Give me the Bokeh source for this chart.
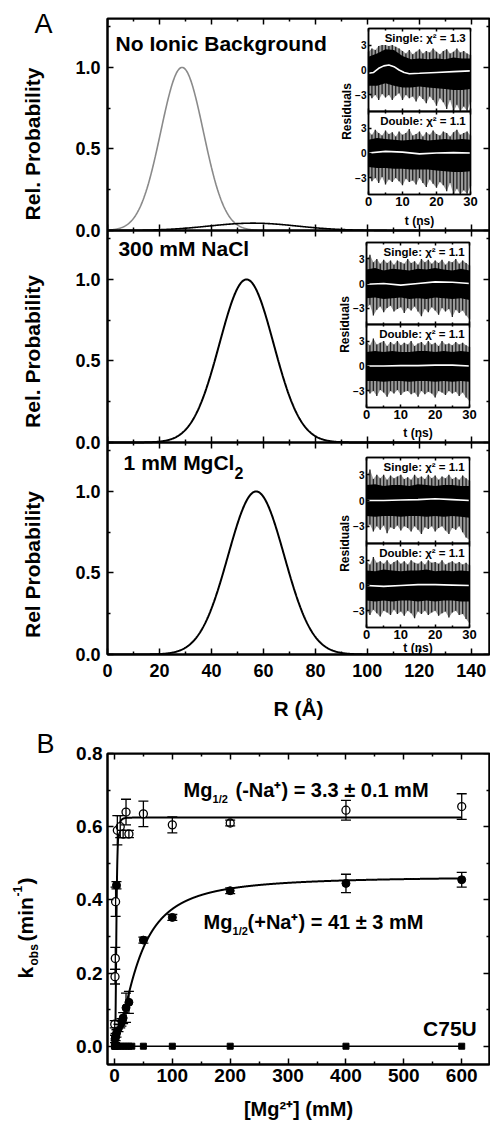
import numpy as np
from bokeh.plotting import figure
from bokeh.models import (Range1d, LinearAxis, FixedTicker, PrintfTickFormatter,
                          CustomJSTickFormatter, Label, ColumnDataSource, Whisker, TeeHead)
from bokeh.layouts import column, row
from bokeh.embed import file_html
from bokeh.resources import INLINE

FONT = "Liberation Sans"

# ---------------- data: panel A ----------------
R_TICKS = [0, 20, 40, 60, 80, 100, 120, 140]
R_MINOR = [10, 30, 50, 70, 90, 110, 130]
P_TICKS = [0.0, 0.5, 1.0]
P_MINOR = [0.25, 0.75, 1.25]
PANEL_TITLES = ["No Ionic Background", "300 mM NaCl", "1 mM MgCl"]
Y_LABELS = ["Rel. Probability", "Rel. Probability", "Rel Probability"]
# Gaussian distance distributions: [center (A), sigma (A), amplitude]
GAUSS_NOION_MAJOR = [28.7, 8.2, 1.0]
GAUSS_NOION_MINOR = [56.0, 17.0, 0.045]
GAUSS_NACL = [53.5, 10.4, 1.0]
GAUSS_MGCL2 = [57.2, 10.8, 1.0]
CHI2_SINGLE = ["1.3", "1.1", "1.1"]
CHI2_DOUBLE = ["1.1", "1.1", "1.1"]

# residual insets (estimated envelopes of the noisy residual traces)
RES_T = [0, 1, 2, 3, 4, 5, 6, 7, 8, 9, 10, 11, 12, 13, 14, 15, 16, 17, 18, 19, 20,
         21, 22, 23, 24, 25, 26, 27, 28, 29, 30]
CORE_T = [0, 2.5, 5, 7.5, 10, 12.5, 15, 17.5, 20, 22.5, 25, 27.5, 30]
FIT_T = [0, 5, 10, 15, 20, 25, 30]
RES_TICKS = [-3, 0, 3]
T_TICKS = [0, 10, 20, 30]
T_MINOR = [5, 15, 25]

N1S_HI = [2.2, 2.6, 2.4, 2.9, 3.0, 3.0, 2.9, 3.0, 2.8, 2.6, 2.3, 2.0, 2.4, 1.9, 2.2, 2.5, 2.0, 2.3, 2.1, 2.6,
          2.2, 1.9, 2.3, 2.5, 2.0, 2.2, 2.6, 2.1, 2.3, 2.0, 1.8]
N1S_LO = [-2.8, -3.4, -3.0, -3.6, -2.9, -3.3, -3.0, -3.6, -3.1, -2.8, -3.6, -3.0, -3.4, -3.2, -3.8, -3.1,
          -3.5, -4.0, -3.2, -3.6, -4.3, -3.4, -3.9, -4.7, -3.6, -5.0, -4.2, -5.0, -4.4, -4.9, -3.9]
N1S_CORE_HI = [1.6, 2.0, 2.5, 2.4, 1.7, 1.3, 1.4, 1.3, 1.4, 1.3, 1.5, 1.4, 1.4]
N1S_CORE_LO = [-1.9, -1.9, -1.6, -1.9, -2.1, -2.1, -2.0, -2.1, -2.2, -2.3, -2.4, -2.4, -2.3]
N1S_FIT_T = [0, 1.5, 3, 4.5, 6, 7.5, 9, 10.5, 12, 15, 20, 25, 30]
N1S_FIT = [-0.4, -0.3, 0.2, 0.5, 0.6, 0.4, 0.0, -0.3, -0.45, -0.4, -0.3, -0.2, -0.1]

N1D_HI = [2.6, 2.2, 2.8, 2.4, 2.1, 2.7, 2.3, 2.5, 2.0, 2.6, 2.2, 2.4, 2.9, 2.1, 2.3, 2.6, 2.0, 2.5, 2.2, 2.7,
          2.3, 2.1, 2.6, 2.4, 2.0, 2.5, 2.8, 2.2, 2.4, 2.6, 2.1]
N1D_LO = [-2.6, -3.4, -3.0, -3.6, -2.9, -3.8, -3.2, -3.5, -3.0, -3.4, -3.9, -3.1, -3.5, -3.3, -3.8, -3.0,
          -3.6, -4.1, -3.2, -3.7, -4.2, -3.5, -3.9, -4.6, -3.6, -5.0, -4.3, -5.0, -4.5, -4.9, -4.0]
N1D_CORE_HI = [1.6, 1.8, 1.7, 1.6, 1.5, 1.6, 1.7, 1.5, 1.6, 1.7, 1.6, 1.7, 1.6]
N1D_CORE_LO = [-1.7, -1.8, -1.8, -1.9, -1.9, -2.0, -2.0, -2.0, -2.1, -2.2, -2.3, -2.3, -2.2]
N1D_FIT = [0.0, 0.2, 0.1, -0.1, 0.0, 0.05, 0.0]

N2S_HI = [2.8, 3.5, 2.6, 3.0, 2.4, 2.9, 2.5, 2.8, 2.3, 2.8, 2.6, 2.4, 3.0, 2.5, 2.7, 2.3, 3.0, 2.6, 2.9, 2.4,
          2.8, 2.5, 2.9, 2.3, 2.7, 2.6, 3.0, 2.4, 2.8, 2.5, 2.2]
N2S_LO = [-3.0, -2.6, -3.9, -3.2, -2.8, -3.5, -3.0, -2.7, -3.4, -3.1, -2.9, -3.6, -3.0, -3.3, -2.8, -3.4,
          -4.0, -3.1, -3.5, -2.9, -3.3, -3.8, -3.0, -3.4, -3.1, -4.1, -3.2, -3.6, -3.3, -3.9, -4.4]
N2S_CORE_HI = [1.7, 1.9, 1.6, 1.8, 1.7, 1.6, 1.8, 1.7, 1.9, 1.7, 1.6, 1.8, 1.6]
N2S_CORE_LO = [-1.8, -1.7, -1.9, -1.8, -1.7, -1.9, -1.8, -1.9, -1.7, -1.8, -1.9, -1.8, -2.0]
N2S_FIT = [-0.1, 0.0, -0.2, 0.0, 0.2, 0.15, 0.0]

N2D_HI = [2.9, 2.5, 3.3, 2.6, 2.8, 3.0, 2.4, 2.9, 2.6, 3.0, 2.5, 2.8, 2.6, 3.0, 2.4, 2.7, 2.9, 2.5, 3.0, 2.6,
          2.8, 2.4, 3.0, 2.6, 2.7, 2.5, 2.9, 2.6, 2.8, 2.5, 2.3]
N2D_LO = [-2.8, -3.3, -3.0, -3.6, -2.9, -3.2, -3.7, -3.0, -3.3, -2.9, -3.5, -3.1, -3.0, -3.4, -3.2, -3.7,
          -3.0, -3.4, -3.1, -3.3, -3.8, -3.0, -3.2, -3.5, -3.0, -3.3, -3.1, -3.6, -3.2, -3.8, -4.2]
N2D_CORE_HI = [1.7, 1.8, 1.7, 1.8, 1.7, 1.7, 1.8, 1.8, 1.7, 1.8, 1.7, 1.8, 1.7]
N2D_CORE_LO = [-1.8, -1.8, -1.9, -1.8, -1.8, -1.9, -1.8, -1.8, -1.9, -1.8, -1.9, -1.8, -1.9]
N2D_FIT = [0.0, 0.0, 0.05, 0.05, 0.1, 0.1, 0.0]

N3S_HI = [2.7, 3.6, 2.5, 3.0, 2.6, 3.0, 2.4, 2.9, 2.6, 2.8, 3.0, 2.5, 2.7, 2.4, 3.0, 2.6, 2.8, 2.5, 3.0, 2.6,
          2.9, 2.4, 2.8, 2.6, 3.0, 2.5, 2.7, 2.4, 2.9, 2.6, 2.3]
N3S_LO = [-3.2, -2.8, -3.6, -3.0, -3.4, -2.9, -3.8, -3.1, -3.3, -2.9, -3.5, -3.0, -3.2, -3.6, -3.0, -3.4,
          -3.9, -3.1, -3.3, -3.0, -3.6, -3.2, -3.0, -3.5, -3.9, -3.2, -3.4, -3.0, -3.7, -4.3, -4.6]
N3S_CORE_HI = [1.8, 1.9, 1.7, 1.8, 1.8, 1.7, 1.9, 1.8, 1.7, 1.8, 1.8, 1.7, 1.7]
N3S_CORE_LO = [-1.8, -1.9, -1.8, -1.8, -1.9, -1.8, -1.8, -1.9, -1.8, -1.9, -1.8, -1.9, -2.0]
N3S_FIT = [0.0, 0.0, 0.05, 0.1, 0.2, 0.1, 0.0]

N3D_HI = [2.8, 2.5, 3.4, 2.7, 2.9, 2.6, 3.0, 2.5, 2.8, 3.0, 2.6, 2.9, 2.5, 3.0, 2.7, 2.6, 2.9, 2.5, 3.0, 2.7,
          2.8, 2.6, 3.0, 2.5, 2.7, 2.9, 2.6, 2.8, 2.5, 2.7, 2.4]
N3D_LO = [-3.0, -3.5, -2.9, -3.3, -3.7, -3.0, -3.2, -3.5, -2.9, -3.4, -3.1, -3.6, -3.0, -3.3, -3.9, -3.1,
          -3.4, -3.0, -3.5, -3.2, -3.0, -3.6, -3.3, -3.1, -3.8, -3.2, -3.0, -3.5, -3.4, -4.0, -4.5]
N3D_CORE_HI = [1.8, 1.7, 1.9, 1.8, 1.7, 1.8, 1.8, 1.9, 1.7, 1.8, 1.7, 1.8, 1.7]
N3D_CORE_LO = [-1.8, -1.9, -1.8, -1.9, -1.8, -1.8, -1.9, -1.8, -1.9, -1.8, -1.8, -1.9, -1.9]
N3D_FIT = [0.0, -0.1, 0.0, 0.1, 0.1, 0.05, 0.0]

# ---------------- data: panel B ----------------
MG_TICKS = [0, 100, 200, 300, 400, 500, 600]
MG_MINOR = [50, 150, 250, 350, 450, 550]
K_TICKS = [0.0, 0.2, 0.4, 0.6, 0.8]
K_MINOR = [0.1, 0.3, 0.5, 0.7]
OPEN_X = [0.5, 1, 1.5, 2, 5, 10, 15, 20, 25, 50, 100, 200, 400, 600]
OPEN_Y = [0.06, 0.19, 0.24, 0.395, 0.59, 0.60, 0.58, 0.64, 0.58, 0.635, 0.605, 0.61, 0.645, 0.655]
OPEN_E = [0.01, 0.02, 0.03, 0.04, 0.04, 0.03, 0.01, 0.035, 0.01, 0.035, 0.022, 0.008, 0.027, 0.035]
FILLED_X = [1, 2, 3.5, 7, 10, 12, 15, 20, 25, 50, 100, 200, 400, 600]
FILLED_Y = [0.02, 0.025, 0.035, 0.05, 0.06, 0.065, 0.077, 0.105, 0.12, 0.29, 0.352, 0.425, 0.445, 0.455]
FILLED_E = [0.01, 0.01, 0.01, 0.01, 0.01, 0.01, 0.015, 0.04, 0.03, 0.008, 0.008, 0.008, 0.025, 0.02]
EXTRA_X = [3.5]
EXTRA_Y = [0.44]
EXTRA_E = [0.01]
C75U_X = [0, 1, 2, 5, 10, 15, 20, 25, 30, 50, 100, 200, 400, 600]
C75U_Y = [0, 0, 0, 0, 0, 0, 0, 0, 0, 0, 0, 0, 0, 0]
# Hill fits: [plateau, Mg1/2 (mM), Hill coefficient]
FIT_MINUS_NA = [0.625, 3.3, 3.5]
FIT_PLUS_NA = [0.465, 41.0, 1.6]

# ---------------- layout geometry (reference pixels) ----------------
FL, FW = 107, 382            # frame left / width
A_TOP, A_BOT = 18, 654       # panel A frame
SUB_H = 212
INSET_BOXES = [(368, 470, 28, 111, 194), (366, 469, 242, 324, 407), (366, 469, 457, 543, 627)]
TNS_DY = [26, 25, 20]
PPU_A = 212 / 1.3
LW = 72                      # width of the side strip that carries outer labels
A_BOTTOM_BORDER = 78
B_TOP_BORDER = 21
B_BOTTOM_BORDER = 58
A_HEIGHT = A_TOP + 636 + A_BOTTOM_BORDER
B_HEIGHT = B_TOP_BORDER + 311 + B_BOTTOM_BORDER
TOTAL_H = A_HEIGHT + B_HEIGHT
TOTAL_W = 490


def style_axis(ax, size=None, standoff=5, lw=2.0, major=6, minor=3):
    ax.axis_line_color = "black"
    ax.axis_line_width = lw
    ax.major_tick_line_color = "black"
    ax.minor_tick_line_color = "black"
    ax.major_tick_line_width = 1.5
    ax.minor_tick_line_width = 1.5
    ax.major_tick_in = major
    ax.major_tick_out = 0
    ax.minor_tick_in = minor
    ax.minor_tick_out = 0
    ax.major_label_standoff = standoff
    ax.major_label_text_font = FONT
    ax.major_label_text_font_style = "bold"
    ax.major_label_text_color = "black"
    if size:
        ax.major_label_text_font_size = size
    else:
        ax.formatter = CustomJSTickFormatter(code="return ''")


def axis_label_style(ax, text, size, standoff):
    ax.axis_label = text
    ax.axis_label_text_font = FONT
    ax.axis_label_text_font_style = "bold"
    ax.axis_label_text_font_size = size
    ax.axis_label_text_color = "black"
    ax.axis_label_standoff = standoff


def lab(p, x, y, text, size, style="bold", align="left", baseline="middle", angle=0.0, **kw):
    p.add_layout(Label(x=x, y=y, text=text, text_font=FONT, text_font_size=size,
                       text_font_style=style, text_color="black", text_align=align,
                       text_baseline=baseline, angle=angle, **kw))


# ======================= side strip with outer labels =======================
pL = figure(width=LW, height=TOTAL_H, x_range=Range1d(0, LW), y_range=Range1d(TOTAL_H, 0),
            x_axis_location=None, y_axis_location=None, min_border=0,
            output_backend="svg", toolbar_location=None)
pL.grid.visible = False
pL.outline_line_color = None
rot = np.pi / 2
lab(pL, 43, 23, "A", "27px", style="normal", align="center")
for yc, t in zip([143.5, 351, 564], Y_LABELS):
    lab(pL, 32, yc, t, "21px", align="center", angle=rot)
lab(pL, 45, 743, "B", "27px", style="normal", align="center")
lab(pL, 25, 978, "k", "21px", baseline="alphabetic", angle=rot)
lab(pL, 33, 965, "obs", "12px", baseline="alphabetic", angle=rot)
lab(pL, 25, 941, "(min", "21px", baseline="alphabetic", angle=rot)
lab(pL, 17, 896, "-1", "12px", baseline="alphabetic", angle=rot)
lab(pL, 25, 884, ")", "21px", baseline="alphabetic", angle=rot)

# ======================= PANEL A =======================
pA = figure(width=TOTAL_W - LW, height=A_HEIGHT, x_range=Range1d(0, 147), y_range=Range1d(0, 3.9),
            x_axis_location=None, y_axis_location=None,
            min_border_left=FL - LW, min_border_right=TOTAL_W - FL - FW, min_border_top=A_TOP,
            min_border_bottom=A_BOTTOM_BORDER,
            output_backend="svg", toolbar_location=None)
pA.grid.visible = False
pA.outline_line_color = "black"
pA.outline_line_width = 2

R = np.linspace(0, 120, 601)


def gauss(par):
    mu, s, a = par
    return a * np.exp(-0.5 * ((R - mu) / s) ** 2)


sub_curves = [[(GAUSS_NOION_MAJOR, "#8a8a8a", 1.6), (GAUSS_NOION_MINOR, "black", 1.6)],
              [(GAUSS_NACL, "black", 2.0)],
              [(GAUSS_MGCL2, "black", 2.0)]]

rticker = FixedTicker(ticks=R_TICKS, minor_ticks=R_MINOR)
pticker = FixedTicker(ticks=P_TICKS, minor_ticks=P_MINOR)

# one left axis on the stacked (default) range carries the three probability scales
offsets = [2.6, 1.3, 0.0]
left_ticks = [round(o + t, 3) for o in offsets for t in P_TICKS]
left_minor = [round(o + t, 3) for o in offsets for t in P_MINOR]
axl = LinearAxis(ticker=FixedTicker(ticks=left_ticks, minor_ticks=left_minor))
style_axis(axl, "18px", standoff=7)
axl.formatter = CustomJSTickFormatter(
    code="let v = tick; if (v > 2.59) { v -= 2.6 } else if (v > 1.29) { v -= 1.3 }; "
         "return Math.abs(v).toFixed(1);")
pA.add_layout(axl, "left")

for k in range(3):
    top_k = A_TOP + SUB_H * k
    bot_k = top_k + SUB_H
    sname = f"s{k}"
    pA.extra_y_ranges[sname] = Range1d(-(A_BOT - bot_k) / PPU_A, 1.3 + (top_k - A_TOP) / PPU_A)
    for par, col, lw in sub_curves[k]:
        pA.line(R, gauss(par), line_color=col, line_width=lw, y_range_name=sname)

    axr = LinearAxis(y_range_name=sname, fixed_location=147, bounds=(0, 1.3), ticker=pticker)
    style_axis(axr)
    pA.add_layout(axr, "right")
    axt = LinearAxis(y_range_name=sname, fixed_location=1.3, ticker=rticker)
    style_axis(axt)
    pA.add_layout(axt, "above")
    if k < 2:
        axb = LinearAxis(y_range_name=sname, fixed_location=0, ticker=rticker)
        style_axis(axb)
        pA.add_layout(axb, "below")

    # ---- inset ranges ----
    L, Rr, T, M, B = INSET_BOXES[k]
    ppx = (Rr - L) / 30.0
    tx = f"tx{k}"
    x0 = -(L - FL) / ppx
    pA.extra_x_ranges[tx] = Range1d(x0, x0 + FW / ppx)
    for h, (tp, bt) in enumerate(((T, M), (M, B))):
        ppy = (bt - tp) / 10.0
        pA.extra_y_ranges[f"r{k}{h}"] = Range1d(-5 - (A_BOT - bt) / ppy, 5 + (tp - A_TOP) / ppy)

halves_all = [
    [(N1S_HI, N1S_LO, N1S_CORE_HI, N1S_CORE_LO, N1S_FIT_T, N1S_FIT),
     (N1D_HI, N1D_LO, N1D_CORE_HI, N1D_CORE_LO, FIT_T, N1D_FIT)],
    [(N2S_HI, N2S_LO, N2S_CORE_HI, N2S_CORE_LO, FIT_T, N2S_FIT),
     (N2D_HI, N2D_LO, N2D_CORE_HI, N2D_CORE_LO, FIT_T, N2D_FIT)],
    [(N3S_HI, N3S_LO, N3S_CORE_HI, N3S_CORE_LO, FIT_T, N3S_FIT),
     (N3D_HI, N3D_LO, N3D_CORE_HI, N3D_CORE_LO, FIT_T, N3D_FIT)],
]

tticker = FixedTicker(ticks=T_TICKS, minor_ticks=T_MINOR)
yticker = FixedTicker(ticks=RES_TICKS, minor_ticks=[])

for k in range(3):
    tx = f"tx{k}"
    names = [f"r{k}0", f"r{k}1"]
    texts = [f"Single: \u03c7\u00b2 = {CHI2_SINGLE[k]}", f"Double: \u03c7\u00b2 = {CHI2_DOUBLE[k]}"]
    for h, nm in enumerate(names):
        hi, lo, chi, clo, ft, fv = halves_all[k][h]
        kw = dict(x_range_name=tx, y_range_name=nm)
        pA.quad(left=[0], right=[30], bottom=[-5], top=[5], fill_color="white", line_color=None, **kw)
        pA.varea(x=RES_T, y1=lo, y2=hi, fill_color="#9a9a9a", **kw)
        pA.segment(x0=RES_T, y0=lo, x1=RES_T, y1=hi, line_color="#222222", line_width=1.3, **kw)
        pA.varea(x=CORE_T, y1=clo, y2=chi, fill_color="black", **kw)
        pA.line(x=ft, y=fv, line_color="white", line_width=1.6, **kw)
        pA.quad(left=[0], right=[30], bottom=[-5], top=[5], fill_color=None,
                line_color="black", line_width=1.5, **kw)
        lab(pA, 28.6, 3.85, texts[h], "11.5px", align="right", **kw)
        ay = LinearAxis(x_range_name=tx, y_range_name=nm, fixed_location=0, bounds=(-5, 5), ticker=yticker)
        style_axis(ay, "10px", standoff=2, lw=1.5, major=3, minor=0)
        pA.add_layout(ay, "left")
    for nm, loc, side, show in ((names[0], 5, "above", False), (names[0], -5, "below", False),
                                (names[1], 5, "above", False), (names[1], -5, "below", True)):
        ax = LinearAxis(x_range_name=tx, y_range_name=nm, fixed_location=loc, bounds=(0, 30), ticker=tticker)
        style_axis(ax, "13px" if show else None, standoff=2, lw=1.5, major=3, minor=2)
        pA.add_layout(ax, side)
    L, Rr, T, M, B = INSET_BOXES[k]
    ppy_b = (B - M) / 10.0
    lab(pA, 15, -5 - TNS_DY[k] / ppy_b, "t (ns)", "12px", align="center",
        x_range_name=tx, y_range_name=names[1])
    lab(pA, -6.2, -5, "Residuals", "12px", align="center", angle=np.pi / 2,
        x_range_name=tx, y_range_name=names[0])

# bottom R axis
axR = LinearAxis(ticker=rticker)
style_axis(axR, "18px", standoff=9)
axis_label_style(axR, "R (\u00c5)", "21px", 17)
pA.add_layout(axR, "below")

# titles
lab(pA, 3.1, 1.147, PANEL_TITLES[0], "21px", y_range_name="s0")
lab(pA, 4.2, 1.19, PANEL_TITLES[1], "21px", y_range_name="s1")
lab(pA, 6.2, 1.177, PANEL_TITLES[2], "21px", y_range_name="s2")
lab(pA, 48.9, 1.116, "2", "16px", y_range_name="s2")

# ======================= PANEL B =======================
pB = figure(width=TOTAL_W - LW, height=B_HEIGHT, x_range=Range1d(-12, 648), y_range=Range1d(-0.05, 0.8),
            x_axis_location=None, y_axis_location=None,
            min_border_left=FL - LW, min_border_right=TOTAL_W - FL - FW, min_border_top=B_TOP_BORDER,
            min_border_bottom=B_BOTTOM_BORDER,
            output_backend="svg", toolbar_location=None)
pB.grid.visible = False
pB.outline_line_color = "black"
pB.outline_line_width = 2

mticker = FixedTicker(ticks=MG_TICKS, minor_ticks=MG_MINOR)
kticker = FixedTicker(ticks=K_TICKS, minor_ticks=K_MINOR)
axl = LinearAxis(ticker=kticker, formatter=PrintfTickFormatter(format="%.1f"))
style_axis(axl, "19px", standoff=5)
pB.add_layout(axl, "left")
axb = LinearAxis(ticker=mticker)
style_axis(axb, "19px", standoff=4)
axis_label_style(axb, "[Mg\u00b2\u207a] (mM)", "20px", 13)
pB.add_layout(axb, "below")
axt = LinearAxis(ticker=mticker, fixed_location=0.8)
style_axis(axt)
pB.add_layout(axt, "above")
axr = LinearAxis(ticker=kticker, fixed_location=648)
style_axis(axr)
pB.add_layout(axr, "right")


def hill(par, x):
    a, k, n = par
    return a * x ** n / (k ** n + x ** n)


xf = np.linspace(0, 600, 3001)
pB.line(xf, hill(FIT_MINUS_NA, xf), line_color="black", line_width=2)
pB.line(xf, hill(FIT_PLUS_NA, xf), line_color="black", line_width=2)
pB.line(C75U_X, C75U_Y, line_color="black", line_width=1.5)


def err_src(xs, ys, es):
    return ColumnDataSource(dict(x=xs, y=ys, up=[y + e for y, e in zip(ys, es)],
                                 lo=[y - e for y, e in zip(ys, es)]))


for xs, ys, es in ((OPEN_X, OPEN_Y, OPEN_E), (FILLED_X, FILLED_Y, FILLED_E), (EXTRA_X, EXTRA_Y, EXTRA_E)):
    src = err_src(xs, ys, es)
    w = Whisker(source=src, base="x", upper="up", lower="lo", line_color="black", line_width=1.3,
                upper_head=TeeHead(size=10, line_width=1.3, line_color="black"),
                lower_head=TeeHead(size=10, line_width=1.3, line_color="black"), level="glyph")
    pB.add_layout(w)

pB.scatter(C75U_X, C75U_Y, marker="square", size=6, fill_color="black", line_color="black")
pB.scatter(FILLED_X, FILLED_Y, marker="circle", size=8, fill_color="black", line_color="black")
pB.scatter(EXTRA_X, EXTRA_Y, marker="circle", size=8, fill_color="black", line_color="black")
pB.scatter(OPEN_X, OPEN_Y, marker="circle", size=8, fill_color="white", line_color="black", line_width=1.3)

lab(pB, 119.3, 0.699, "Mg", "20px", baseline="alphabetic")
lab(pB, 169.5, 0.676, "1/2", "11px", baseline="alphabetic")
lab(pB, 209.2, 0.699, "(-Na\u207a) = 3.3 \u00b1 0.1 mM", "20px", baseline="alphabetic")
lab(pB, 153.9, 0.340, "Mg", "20px", baseline="alphabetic")
lab(pB, 204.0, 0.315, "1/2", "11px", baseline="alphabetic")
lab(pB, 230.0, 0.340, "(+Na\u207a) = 41 \u00b1 3 mM", "20px", baseline="alphabetic")
lab(pB, 626.0, 0.049, "C75U", "21px", align="right", baseline="alphabetic")

layout = row(pL, column(pA, pB, spacing=0), spacing=0)
open("out.html", "w").write(file_html(layout, INLINE))
